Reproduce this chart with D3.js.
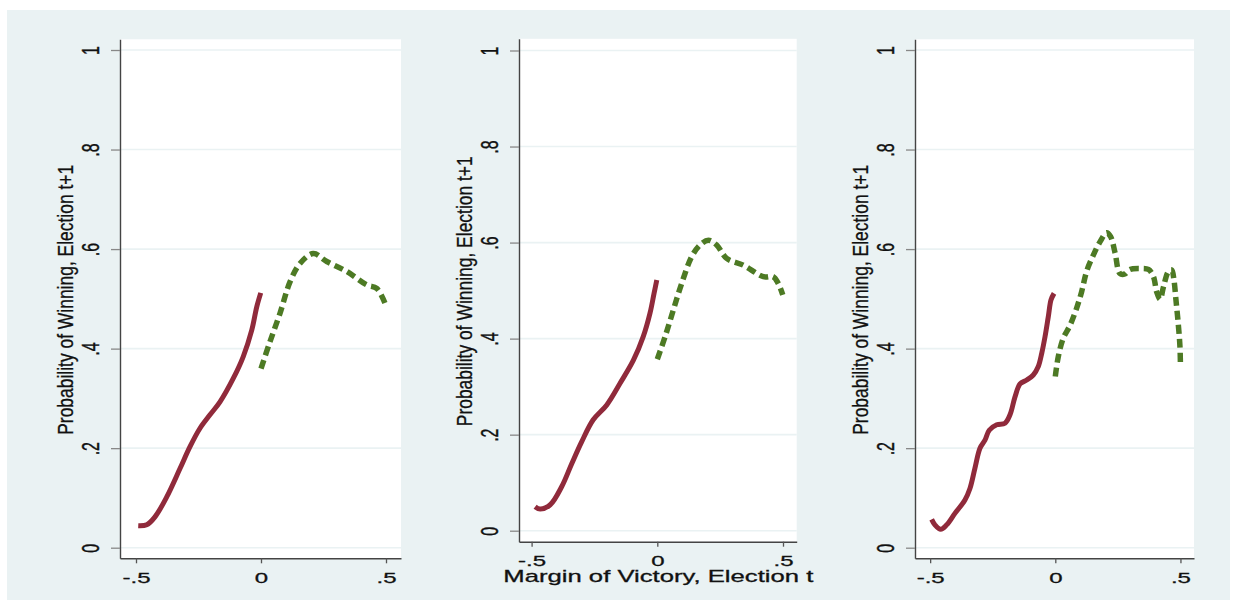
<!DOCTYPE html>
<html><head><meta charset="utf-8">
<script src="https://cdn.jsdelivr.net/npm/d3@7"></script>
<style>html,body{margin:0;padding:0;background:#fff;}svg{display:block;}</style>
</head><body>
<svg id="c" width="1237" height="608"></svg>
<script>
// ---- data ----
const xTicks = [-0.5, 0, 0.5];
const xTickLabels = ["-.5", "0", ".5"];
const yTicks = [0, 0.2, 0.4, 0.6, 0.8, 1];
const yTickLabels = ["0", ".2", ".4", ".6", ".8", "1"];
const yTitle = "Probability of Winning, Election t+1";
const xTitle = "Margin of Victory, Election t";

// panel 1
const p1LoseX = [-0.491,-0.457,-0.424,-0.377,-0.324,-0.284,-0.244,-0.204,-0.164,-0.111,-0.071,-0.037,-0.017,-0.001];
const p1LoseY = [0.044,0.046,0.062,0.102,0.159,0.203,0.240,0.267,0.293,0.340,0.384,0.437,0.484,0.512];
const p1WinX = [0.0,0.036,0.076,0.116,0.156,0.209,0.263,0.343,0.423,0.463,0.496];
const p1WinY = [0.360,0.414,0.471,0.534,0.571,0.591,0.575,0.555,0.528,0.521,0.491];
// panel 2
const p2LoseX = [-0.486,-0.466,-0.426,-0.380,-0.340,-0.301,-0.255,-0.201,-0.148,-0.095,-0.056,-0.029,-0.013,-0.002];
const p2LoseY = [0.050,0.045,0.054,0.092,0.140,0.185,0.231,0.262,0.307,0.355,0.404,0.453,0.494,0.522];
const p2WinX = [0.0,0.031,0.064,0.097,0.137,0.170,0.203,0.236,0.276,0.342,0.422,0.461,0.481,0.499];
const p2WinY = [0.357,0.404,0.460,0.515,0.571,0.595,0.605,0.595,0.567,0.553,0.529,0.529,0.515,0.491];
// panel 3
const p3LoseX = [-0.494,-0.481,-0.458,-0.434,-0.401,-0.361,-0.341,-0.321,-0.301,-0.281,-0.264,-0.234,-0.201,-0.181,-0.161,-0.141,-0.114,-0.088,-0.068,-0.054,-0.041,-0.028,-0.017,-0.005];
const p3LoseY = [0.057,0.046,0.037,0.046,0.069,0.096,0.119,0.160,0.200,0.216,0.236,0.247,0.250,0.267,0.303,0.329,0.337,0.347,0.364,0.391,0.424,0.464,0.498,0.511];
const p3WinX = [0.0,0.012,0.032,0.059,0.085,0.105,0.125,0.152,0.179,0.205,0.221,0.239,0.258,0.278,0.298,0.338,0.372,0.392,0.405,0.419,0.432,0.452,0.465,0.474,0.482,0.491,0.498,0.500];
const p3WinY = [0.344,0.384,0.421,0.447,0.481,0.514,0.555,0.588,0.615,0.633,0.625,0.592,0.551,0.550,0.559,0.561,0.559,0.545,0.514,0.499,0.524,0.555,0.558,0.538,0.498,0.451,0.404,0.364];

// ---- layout ----
const panels = [
  {x0:261, xu:250, left:120, right:401, y0:547.7, yu:497.7, top:39.3, bottom:558.3,
   lose:[p1LoseX,p1LoseY], win:[p1WinX,p1WinY], title:false},
  {x0:657.3, xu:251.4, left:519, right:796.7, y0:530.7, yu:480.2, top:38.8, bottom:541.7,
   lose:[p2LoseX,p2LoseY], win:[p2WinX,p2WinY], title:true},
  {x0:1055.3, xu:250.3, left:915, right:1194, y0:547.7, yu:497.7, top:39.3, bottom:558.3,
   lose:[p3LoseX,p3LoseY], win:[p3WinX,p3WinY], title:false}
];
const FONT = "'Liberation Sans', Arial, Helvetica, sans-serif";
const svg = d3.select("#c");
svg.append("rect").attr("x",7).attr("y",10).attr("width",1223).attr("height",590).attr("fill","#eaf2f3");

panels.forEach(p => {
  const x = d3.scaleLinear().domain([(p.left-p.x0)/p.xu, (p.right-p.x0)/p.xu]).range([p.left, p.right]);
  const y = d3.scaleLinear().domain([(p.y0-p.bottom)/p.yu, (p.y0-p.top)/p.yu]).range([p.bottom, p.top]);
  const g = svg.append("g");
  g.append("rect").attr("x",p.left).attr("y",p.top).attr("width",p.right-p.left).attr("height",p.bottom-p.top).attr("fill","#fff");
  g.selectAll("line.grid").data(yTicks).join("line").attr("class","grid")
    .attr("x1",p.left).attr("x2",p.right).attr("y1",d=>y(d)).attr("y2",d=>y(d))
    .attr("stroke","#eaf2f3").attr("stroke-width",1.6);

  const line = d3.line().x(d=>x(d[0])).y(d=>y(d[1])).curve(d3.curveCatmullRom.alpha(0.5));
  const lose = p.lose[0].map((v,i)=>[v,p.lose[1][i]]);
  const win = p.win[0].map((v,i)=>[v,p.win[1][i]]);
  g.append("path").attr("d",line(lose)).attr("fill","none").attr("stroke","#902a3b").attr("stroke-width",5).attr("stroke-linejoin","round");
  g.append("path").attr("d",line(win)).attr("fill","none").attr("stroke","#4d7a24").attr("stroke-width",5.5).attr("stroke-dasharray","9,5");

  const xa = g.append("g").attr("transform",`translate(0,${p.bottom})`)
    .call(d3.axisBottom(x).tickValues(xTicks).tickSize(5).tickSizeOuter(0).tickFormat((d,i)=>xTickLabels[i]));
  xa.select(".domain").attr("stroke","#444").attr("stroke-width",1.4);
  xa.selectAll(".tick line").attr("stroke","#555").attr("stroke-width",1.3);
  xa.selectAll(".tick text").attr("y",19).attr("dy","0.35em").attr("fill","#111")
    .attr("stroke","#111").attr("stroke-width",0.3)
    .attr("font-family",FONT).attr("font-size",15).attr("transform","scale(1.6,1)");

  const ya = g.append("g").attr("transform",`translate(${p.left},0)`)
    .call(d3.axisLeft(y).tickValues(yTicks).tickSize(9).tickSizeOuter(0).tickFormat((d,i)=>yTickLabels[i]));
  ya.select(".domain").attr("stroke","#444").attr("stroke-width",1.4);
  ya.selectAll(".tick line").attr("stroke","#888").attr("stroke-width",1.3);
  ya.selectAll(".tick text").attr("x",null).attr("y",null).attr("dy","0.35em").attr("fill","#111")
    .attr("stroke","#111").attr("stroke-width",0.3)
    .attr("text-anchor","middle").attr("font-family",FONT).attr("font-size",16)
    .attr("transform","translate(-29,0) rotate(-90) scale(1,1.45)");

  g.append("text").attr("transform",`translate(${p.left-55},${(p.top+p.bottom)/2+1}) rotate(-90) scale(1,1.2)`)
    .attr("text-anchor","middle").attr("dy","0.35em").attr("font-family",FONT).attr("font-size",18)
    .attr("fill","#111").attr("stroke","#111").attr("stroke-width",0.25)
    .attr("textLength",270).attr("lengthAdjust","spacingAndGlyphs").text(yTitle);

  if (p.title) {
    g.append("text").attr("x",x(0)+1).attr("y",576).attr("dy","0.35em").attr("text-anchor","middle")
      .attr("font-family",FONT).attr("font-size",17).attr("fill","#111").attr("stroke","#111").attr("stroke-width",0.3)
      .attr("textLength",310).attr("lengthAdjust","spacingAndGlyphs").text(xTitle);
  }
});
</script>
</body></html>
